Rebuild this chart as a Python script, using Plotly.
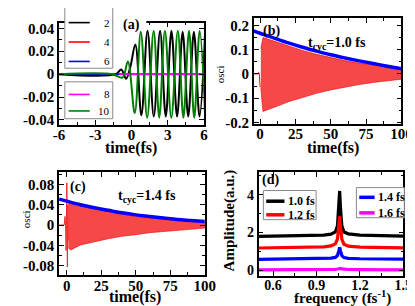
import plotly.graph_objects as go

W, H = 415, 306
def px(x): return x / W
def py(y): return 1 - y / H

# ---------------- data ----------------
# (a) extrema of the oscillating lines (time fs, value)
a_black_t = [-6, -1.3, -0.85, -0.45, -0.1, 0.32, 0.82, 1.33, 1.85, 2.37, 2.84, 3.31, 3.78, 4.24, 4.70, 5.17, 5.64, 6.1]
a_black_v = [0, 0, 0.004, -0.004, 0.006, 0.026, -0.036, 0.038, -0.037, 0.038, -0.037, 0.038, -0.037, 0.037, -0.037, 0.037, -0.037, 0.037]
a_green_t = [-6, -1.6, -0.75, -0.3, 0.27, 0.77, 1.3, 1.84, 2.3, 2.77, 3.3, 3.84, 4.3, 4.77, 5.2, 5.65, 6.1]
a_green_v = [0, 0, -0.003, 0.011, -0.034, 0.037, -0.038, 0.038, -0.038, 0.038, -0.038, 0.038, -0.038, 0.038, -0.038, 0.038, -0.036]
a_flat_t = [-6, 6]
a_flat_v = [0, 0]
a_names = ["2", "4", "6", "8", "10"]

# (b) t_cyc = 1.0 fs
b_pre_t = [-4.5, -1.5, -1.0, -0.6, 0.0]
b_pre_v = [0, 0, 0.006, 0, -0.055]
b_env_t = [0.5, 2, 5, 10, 20, 30, 40, 50, 60, 70, 80, 90, 100]
b_up = [0.105, 0.150, 0.145, 0.135, 0.115, 0.097, 0.081, 0.067, 0.055, 0.045, 0.036, 0.028, 0.020]
b_lo = [-0.06, -0.155, -0.148, -0.138, -0.115, -0.097, -0.080, -0.066, -0.054, -0.044, -0.035, -0.028, -0.022]
b_blue_t = [-4.5, 0, 5, 10, 20, 30, 40, 50, 60, 70, 80, 90, 100]
b_blue_v = [0.178, 0.168, 0.158, 0.148, 0.128, 0.110, 0.094, 0.079, 0.066, 0.054, 0.043, 0.032, 0.021]

# (c) t_cyc = 1.4 fs
c_pre_t = [-5.5, -1.8, -1.2, -0.8, -0.4, 0.1, 0.5, 0.9, 1.2]
c_pre_v = [0, 0, 0.017, 0, -0.05, 0.083, -0.082, 0.04, -0.03]
c_env_t = [1.2, 3, 10, 20, 30, 40, 50, 60, 70, 80, 90, 100]
c_up = [0.045, 0.046, 0.038, 0.032, 0.026, 0.021, 0.017, 0.014, 0.011, 0.009, 0.007, 0.005]
c_lo = [-0.045, -0.049, -0.039, -0.033, -0.027, -0.022, -0.019, -0.015, -0.012, -0.010, -0.008, -0.006]
c_blue_t = [-5.5, 0, 10, 20, 30, 40, 50, 60, 70, 80, 90, 100]
c_blue_v = [0.051, 0.047, 0.040, 0.034, 0.029, 0.024, 0.020, 0.017, 0.014, 0.011, 0.009, 0.007]

# (d) spectra
d_freq = [0.50, 0.70, 0.85, 0.95, 1.00, 1.03, 1.045, 1.055, 1.06, 1.065, 1.075, 1.09, 1.12, 1.20, 1.35, 1.50]
d_10 = [1.80, 1.81, 1.83, 1.86, 1.91, 2.03, 2.35, 3.40, 4.20, 3.40, 2.35, 2.03, 1.93, 1.86, 1.82, 1.81]
d_12 = [1.18, 1.19, 1.21, 1.24, 1.29, 1.40, 1.65, 2.40, 2.85, 2.40, 1.65, 1.38, 1.28, 1.23, 1.20, 1.19]
d_14 = [0.58, 0.59, 0.60, 0.62, 0.64, 0.68, 0.78, 1.05, 1.22, 1.05, 0.78, 0.67, 0.63, 0.61, 0.60, 0.59]
d_16 = [0.02, 0.02, 0.03, 0.03, 0.04, 0.05, 0.07, 0.10, 0.12, 0.10, 0.07, 0.05, 0.04, 0.03, 0.03, 0.02]
d_names = ["1.0 fs", "1.2 fs", "1.4 fs", "1.6 fs"]

# ---------------- figure ----------------
fig = go.Figure()
SERIF = "Liberation Serif"

def line(x, y, color, width, ax, shape="linear", **kw):
    fig.add_trace(go.Scatter(x=x, y=y, mode="lines", line=dict(color=color, width=width, shape=shape),
                             xaxis=ax[0], yaxis=ax[1], showlegend=False, hoverinfo="skip", **kw))

A = ("x", "y"); B = ("x2", "y2"); C = ("x3", "y3"); D = ("x4", "y4")

# (a)
line(a_black_t, a_black_v, "black", 2, A, shape="spline")
line(a_flat_t, a_flat_v, "red", 1.5, A)
line(a_flat_t, a_flat_v, "blue", 1.5, A)
line([-1.0, 6], [0, 0], "magenta", 2, A)
line(a_green_t, a_green_v, "green", 2, A, shape="spline")

# (b)
line(b_pre_t, b_pre_v, "red", 1, B)
fig.add_trace(go.Scatter(x=b_env_t + b_env_t[::-1], y=b_up + b_lo[::-1], mode="lines", fill="toself",
                         fillcolor="rgba(244,40,40,0.85)", line=dict(color="rgba(240,0,0,1)", width=0.6),
                         xaxis="x2", yaxis="y2", showlegend=False, hoverinfo="skip"))
line(b_blue_t, b_blue_v, "blue", 3.5, B, shape="spline")

# (c)
line(c_pre_t, c_pre_v, "rgba(240,40,40,1)", 1, C)
fig.add_trace(go.Scatter(x=c_env_t + c_env_t[::-1], y=c_up + c_lo[::-1], mode="lines", fill="toself",
                         fillcolor="rgba(244,40,40,0.85)", line=dict(color="rgba(240,0,0,1)", width=0.6),
                         xaxis="x3", yaxis="y3", showlegend=False, hoverinfo="skip"))
line(c_blue_t, c_blue_v, "blue", 3.5, C, shape="spline")

# (d)
for vals, col in zip([d_10, d_12, d_14, d_16], ["black", "red", "blue", "magenta"]):
    line(d_freq, vals, col, 3.2, D)

def axstyle(domain, rng, tickvals, ticktext, minor_dtick, size=15, standoff=0):
    return dict(domain=domain, range=rng, tickvals=tickvals, ticktext=ticktext,
                showline=True, linecolor="black", linewidth=1.5, mirror="allticks",
                ticks="inside", ticklen=5, tickwidth=1.3, tickcolor="black",
                minor=dict(ticks="inside", ticklen=3, tickwidth=1, dtick=minor_dtick, tickcolor="black"),
                showgrid=False, zeroline=False, ticklabelstandoff=standoff,
                tickfont=dict(family=SERIF, size=size, color="black", weight="bold"))

SO = -4
fig.update_layout(
    width=W, height=H, margin=dict(l=0, r=0, t=0, b=0),
    paper_bgcolor="white", plot_bgcolor="white",
    xaxis=axstyle([px(47), px(198)], [-6, 6], [-6, -3, 0, 3, 6], ["-6", "-3", "0", "3", "6"], 1.5, standoff=SO),
    yaxis=axstyle([py(118), py(13)], [-0.044, 0.045], [-0.04, -0.02, 0, 0.02, 0.04],
                  ["-0.04", "-0.02", "0", "0.02", "0.04"], 0.01),
    xaxis2=axstyle([px(250), px(404)], [-4.5, 100], [0, 25, 50, 75, 100], ["0", "25", "50", "75", "100"], 12.5, standoff=SO),
    yaxis2=axstyle([py(117), py(8)], [-0.205, 0.232], [-0.2, -0.1, 0, 0.1, 0.2],
                   ["-0.2", "-0.1", "0", "0.1", "0.2"], 0.05),
    xaxis3=axstyle([px(47), px(199)], [-5.5, 100], [0, 25, 50, 75, 100], ["0", "25", "50", "75", "100"], 12.5, standoff=SO),
    yaxis3=axstyle([py(273), py(167)], [-0.098, 0.104], [-0.08, -0.04, 0, 0.04, 0.08],
                   ["-0.08", "-0.04", "0", "0.04", "0.08"], 0.02),
    xaxis4=axstyle([px(255), px(406)], [0.5, 1.5], [0.6, 0.9, 1.2, 1.5], ["0.6", "0.9", "1.2", "1.5"], 0.15, 14, standoff=SO),
    yaxis4=axstyle([py(274), py(167)], [-0.3, 5.2], [0, 2, 4], ["0", "2", "4"], 1, 14),
)
for k in ["xaxis", "xaxis2", "xaxis3", "xaxis4"]:
    fig.layout[k].anchor = "y" + k[5:]
for k in ["yaxis", "yaxis2", "yaxis3", "yaxis4"]:
    fig.layout[k].anchor = "x" + k[5:]

shapes = []
ann = []

def rect(x0, y0, x1, y1, line_col="#888", fill="white", lw=1):
    shapes.append(dict(type="rect", xref="paper", yref="paper", x0=px(x0), x1=px(x1), y0=py(y1), y1=py(y0),
                       line=dict(color=line_col, width=lw), fillcolor=fill, layer="above"))

def seg(x0, x1, y, col, lw):
    shapes.append(dict(type="line", xref="paper", yref="paper", x0=px(x0), x1=px(x1), y0=py(y), y1=py(y),
                       line=dict(color=col, width=lw), layer="above"))

def text(x, y, s, size, bold=True, xanchor="center", angle=0, bg=None):
    ann.append(dict(x=px(x), y=py(y), xref="paper", yref="paper", text=(f"<b>{s}</b>" if bold else s),
                    showarrow=False, xanchor=xanchor, yanchor="middle", textangle=angle,
                    font=dict(family=SERIF, size=size, color="black"),
                    bgcolor=bg, borderpad=0))

# (a) cover top frame behind label, legend boxes
rect(103, 8, 138, 18, line_col="white", fill="white", lw=0)
rect(53, -3, 103, 60)
rect(53, 74, 103, 112)
for y, col, nm in zip([13, 33, 53, 87, 104], ["black", "red", "blue", "magenta", "green"], a_names):
    seg(57, 79, y, col, 1.6)
    text(101, y, nm, 11, bold=False, xanchor="right")
text(123, 15, "(a)", 14)
text(122, 142, "time(fs)", 16)

# (b)
text(268, 22, "(b)", 14)
text(337, 35, "t<sub>cyc</sub>=1.0 fs", 14)
text(333, 142, "time(fs)", 16)
text(215, 66, "osci", 11, bold=False, angle=-90)

# (c)
text(67, 182, "(c)", 14)
text(139, 192, "t<sub>cyc</sub>=1.4 fs", 14)
text(126, 296, "time(fs)", 16)
text(12, 216, "osci", 11, bold=False, angle=-90)

# (d)
text(267, 175, "(d)", 14)
text(343, 296, "frequency (fs<sup>-1</sup>)", 15)
text(225, 217, "Amplitude(a.u.)", 15, angle=-90)
rect(260, 186, 315, 216)
rect(357, 183, 407, 214)
for (x0, x1, tx, y, col, nm) in [(263, 282, 285, 197, "black", d_names[0]), (263, 282, 285, 211, "red", d_names[1]),
                                 (360, 376, 378, 193, "blue", d_names[2]), (360, 376, 378, 209, "magenta", d_names[3])]:
    seg(x0, x1, y, col, 3.5)
    text(tx, y, nm, 12, xanchor="left")

fig.update_layout(shapes=shapes, annotations=ann)
fig.write_html("out.html")
